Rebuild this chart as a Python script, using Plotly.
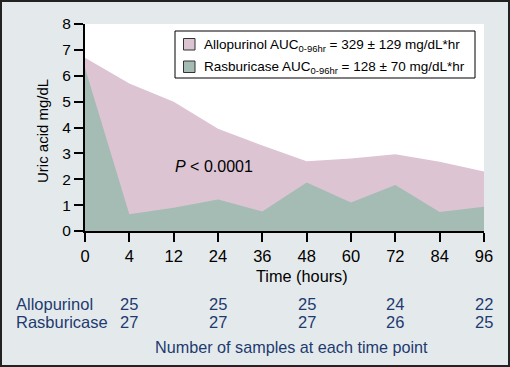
import plotly.graph_objects as go

hours = ["0", "4", "12", "24", "36", "48", "60", "72", "84", "96"]
allopurinol = [6.7, 5.7, 5.0, 3.95, 3.3, 2.7, 2.8, 2.97, 2.68, 2.3]
rasburicase = [6.3, 0.65, 0.9, 1.22, 0.75, 1.87, 1.1, 1.78, 0.73, 0.94]
y_ticks = [0, 1, 2, 3, 4, 5, 6, 7, 8]

sample_hours = ["4", "24", "48", "72", "96"]
allo_n = [25, 25, 25, 24, 22]
rasb_n = [27, 27, 27, 26, 25]

allo_label = "Allopurinol AUC<sub>0-96hr</sub> = 329 ± 129 mg/dL*hr"
rasb_label = "Rasburicase AUC<sub>0-96hr</sub> = 128 ± 70 mg/dL*hr"

W, H = 510, 367
L, R, T, B = 85, 26, 24, 136
pw, ph = W - L - R, H - T - B

def px_x(px):
    return (px - L) / pw

def px_y(py):
    return (H - B - py) / ph

FONT = "Arial, Liberation Sans, sans-serif"
BLUE = "#1e3a70"
PINK = "#dcc4d3"
GREEN = "#a4bcb3"

fig = go.Figure()
fig.add_trace(go.Scatter(
    x=hours, y=allopurinol, mode="lines", fill="tozeroy",
    line=dict(width=0, color=PINK), fillcolor=PINK, name=allo_label, showlegend=False,
    hoverinfo="skip",
))
fig.add_trace(go.Scatter(
    x=hours, y=rasburicase, mode="lines", fill="tozeroy",
    line=dict(width=0, color=GREEN), fillcolor=GREEN, name=rasb_label, showlegend=False,
    hoverinfo="skip",
))

def ann(text, x, y, size=16, color="black", xanchor="center", xref="paper", **kw):
    return dict(text=text, x=x, y=y, xref=xref, yref="paper", showarrow=False,
                xanchor=xanchor, yanchor="middle",
                font=dict(size=size, color=color, family=FONT), **kw)

annotations = [
    ann("<i>P</i> < 0.0001", px_x(214), px_y(166)),
    ann("Uric acid mg/dL", px_x(42), px_y(131), size=15, textangle=-90),
    ann("Time (hours)", px_x(302), px_y(276), size=16.3),
    ann("Allopurinol", px_x(14), px_y(304), size=16.5, color=BLUE, xanchor="left"),
    ann("Rasburicase", px_x(14), px_y(322), size=16.5, color=BLUE, xanchor="left"),
    ann("Number of samples at each time point", px_x(291), px_y(347), size=16.2, color=BLUE),
    ann(allo_label, px_x(202), px_y(45), size=13.5, xanchor="left"),
    ann(rasb_label, px_x(202), px_y(67), size=13.5, xanchor="left"),
]
for h, a, r in zip(sample_hours, allo_n, rasb_n):
    idx = hours.index(h)
    annotations.append(ann(str(a), idx, px_y(304), size=16.5, color=BLUE, xref="x"))
    annotations.append(ann(str(r), idx, px_y(322), size=16.5, color=BLUE, xref="x"))

def rect(x0, y0, x1, y1, fill, line_color, width, layer="above"):
    return dict(type="rect", xref="paper", yref="paper",
                x0=px_x(x0), x1=px_x(x1), y0=px_y(y1), y1=px_y(y0),
                fillcolor=fill, line=dict(color=line_color, width=width), layer=layer)

shapes = [
    rect(1, 1, W - 1, H - 1, "rgba(0,0,0,0)", "#222222", 2, layer="below"),
    rect(175, 31, 475, 78, "white", "black", 1),
    rect(183.5, 38.5, 195, 50, PINK, "#333333", 1),
    rect(183.5, 61, 195, 72.5, GREEN, "#333333", 1),
]

fig.update_layout(
    width=W, height=H,
    margin=dict(l=L, r=R, t=T, b=B, pad=0),
    paper_bgcolor="#e4eaec", plot_bgcolor="white",
    font=dict(family=FONT, color="black", size=16),
    showlegend=False,
    xaxis=dict(type="category", range=[0, 9], showgrid=False, zeroline=False,
               showline=True, linecolor="black", linewidth=2,
               ticks="outside", ticklen=9, tickwidth=2, tickcolor="black",
               tickfont=dict(size=16.5, family=FONT)),
    yaxis=dict(range=[0, 8], tickvals=y_ticks, showgrid=False, zeroline=False,
               showline=True, linecolor="black", linewidth=2,
               ticks="outside", ticklen=9, tickwidth=2, tickcolor="black",
               tickfont=dict(size=15.5, family=FONT)),
    annotations=annotations,
    shapes=shapes,
)

fig.write_html("out.html", config={"displayModeBar": False},
               post_script="document.body.style.margin='0';document.body.style.overflow='hidden';")
